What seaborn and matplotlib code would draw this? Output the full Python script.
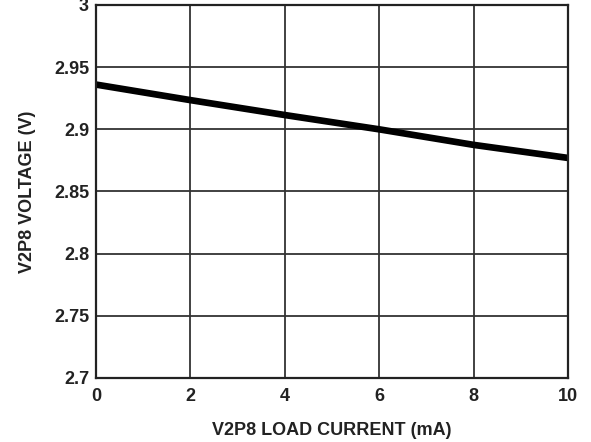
import matplotlib
matplotlib.use('Agg')
import matplotlib.pyplot as plt
import pandas as pd
import seaborn as sns

# Data
load_current = [0, 2, 4, 6, 8, 10]
voltage = [2.936, 2.9235, 2.9115, 2.900, 2.8875, 2.877]

x_ticks = [0, 2, 4, 6, 8, 10]
y_ticks = [2.7, 2.75, 2.8, 2.85, 2.9, 2.95, 3.0]
y_tick_labels = ['2.7', '2.75', '2.8', '2.85', '2.9', '2.95', '3']

df = pd.DataFrame({'current': load_current, 'voltage': voltage})

sns.set_theme(style='white')
plt.rcParams['font.family'] = ['Liberation Sans', 'DejaVu Sans']
plt.rcParams['font.weight'] = 'bold'

fig = plt.figure(figsize=(5.91, 4.42), dpi=100)
ax = fig.add_axes([0.1624, 0.1448, 0.7986, 0.8439])

sns.lineplot(data=df, x='current', y='voltage', ax=ax, color='black', linewidth=4.8)

ax.set_xlim(0, 10)
ax.set_ylim(2.7, 3.0)
ax.set_xticks(x_ticks)
ax.set_xticklabels([str(t) for t in x_ticks], fontsize=13, fontweight='bold', color='#222222')
ax.set_yticks(y_ticks)
ax.set_yticklabels(y_tick_labels, fontsize=13, fontweight='bold', color='#222222')
ax.tick_params(axis='x', length=0, pad=7.5)
ax.tick_params(axis='y', length=0, pad=5)

ax.grid(True, color='#333333', linewidth=1.3)
for s in ax.spines.values():
    s.set_color('#222222')
    s.set_linewidth(1.6)

ax.set_xlabel('V2P8 LOAD CURRENT (mA)', fontsize=13, fontweight='bold', color='#222222', labelpad=12)
ax.set_ylabel('V2P8 VOLTAGE (V)', fontsize=13, fontweight='bold', color='#222222', labelpad=13)

fig.savefig('out.png', dpi=100)
